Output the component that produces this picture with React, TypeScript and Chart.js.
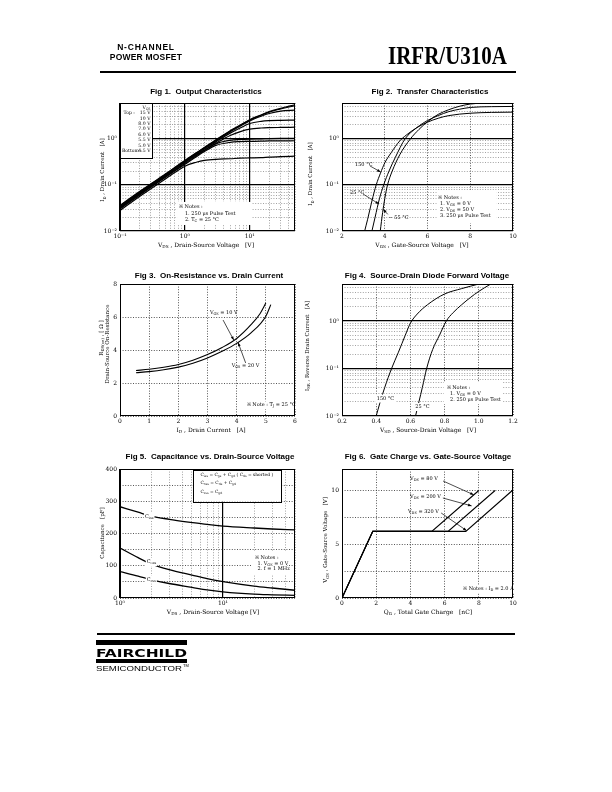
import React, { useEffect, useRef } from 'react';
import { Chart, registerables } from 'chart.js';

Chart.register(...registerables);

/* ============================ DATA ============================ */
// Fig 1 – Output characteristics
const fig1Vds = [0.1, 0.2, 0.3, 0.5, 0.7, 1, 1.5, 2, 3, 5, 7, 10, 15, 20, 30, 50];
const fig1VgsLabels = ['15 V', '10 V', '8.0 V', '7.0 V', '6.0 V', '5.5 V', '5.0 V', '4.5 V'];
const fig1Id15V = [0.036, 0.072, 0.106, 0.172, 0.24, 0.34, 0.5, 0.65, 0.95, 1.5, 1.95, 2.6, 3.3, 3.9, 4.6, 5.5];
const fig1Id10V = [0.035, 0.07, 0.104, 0.169, 0.236, 0.335, 0.49, 0.64, 0.93, 1.47, 1.92, 2.55, 3.25, 3.8, 4.45, 5.25];
const fig1Id8V = [0.034, 0.068, 0.101, 0.165, 0.23, 0.325, 0.48, 0.625, 0.9, 1.42, 1.85, 2.45, 3.1, 3.55, 4.0, 4.2];
const fig1Id7V = [0.033, 0.066, 0.098, 0.16, 0.223, 0.315, 0.465, 0.6, 0.86, 1.33, 1.7, 2.15, 2.4, 2.48, 2.52, 2.55];
const fig1Id6V = [0.032, 0.064, 0.095, 0.155, 0.215, 0.305, 0.445, 0.57, 0.8, 1.18, 1.42, 1.62, 1.72, 1.75, 1.77, 1.79];
const fig1Id55V = [0.031, 0.062, 0.092, 0.15, 0.208, 0.29, 0.43, 0.56, 0.78, 0.93, 0.97, 0.99, 1.0, 1.01, 1.02, 1.03];
const fig1Id5V = [0.03, 0.06, 0.089, 0.145, 0.2, 0.28, 0.41, 0.53, 0.72, 0.84, 0.87, 0.88, 0.89, 0.9, 0.9, 0.91];
const fig1Id45V = [0.028, 0.056, 0.083, 0.135, 0.185, 0.255, 0.31, 0.34, 0.36, 0.37, 0.38, 0.385, 0.39, 0.4, 0.41, 0.42];

// Fig 2 – Transfer characteristics
const fig2Vgs150 = [3.06, 3.2, 3.4, 3.6, 3.8, 4.0, 4.3, 4.7, 5.0, 5.5, 6.0, 6.5, 7.0, 8.0, 9.0, 10];
const fig2Id150 = [0.01, 0.018, 0.045, 0.1, 0.18, 0.3, 0.5, 0.9, 1.2, 1.75, 2.3, 2.8, 3.2, 3.6, 3.75, 3.8];
const fig2Vgs25 = [3.4, 3.55, 3.75, 3.95, 4.2, 4.5, 4.95, 5.5, 6.0, 6.5, 7.0, 7.5, 8.0, 9.0, 10];
const fig2Id25 = [0.01, 0.02, 0.05, 0.1, 0.2, 0.4, 1.0, 1.75, 2.5, 3.2, 3.9, 4.4, 4.8, 5.0, 5.05];
const fig2VgsM55 = [3.79, 3.9, 4.0, 4.13, 4.35, 4.7, 5.2, 5.6, 6.0, 6.5, 7.0, 7.5, 8.0, 8.5, 10];
const fig2IdM55 = [0.01, 0.025, 0.05, 0.1, 0.2, 0.45, 1.0, 1.6, 2.35, 3.4, 4.3, 5.1, 5.7, 5.9, 5.95];

// Fig 3 – On-resistance vs drain current
const fig3Id10 = [0.55, 1, 1.5, 2, 2.5, 3, 3.5, 4, 4.5, 4.8, 5.0];
const fig3Rds10 = [2.76, 2.83, 2.95, 3.12, 3.38, 3.72, 4.15, 4.7, 5.55, 6.2, 6.85];
const fig3Id20 = [0.55, 1, 1.5, 2, 2.5, 3, 3.5, 4, 4.5, 5.0, 5.17];
const fig3Rds20 = [2.62, 2.69, 2.8, 2.96, 3.2, 3.52, 3.92, 4.4, 5.05, 6.05, 6.75];

// Fig 4 – Source-drain diode forward voltage
const fig4Vsd150 = [0.4, 0.42, 0.45, 0.49, 0.53, 0.57, 0.6, 0.64, 0.7, 0.8, 0.9, 1.0];
const fig4Isr150 = [0.01, 0.018, 0.04, 0.1, 0.22, 0.5, 0.9, 1.4, 2.2, 3.7, 4.8, 6.0];
const fig4Vsd25 = [0.63, 0.65, 0.67, 0.695, 0.73, 0.77, 0.81, 0.85, 0.9, 0.95, 1.0, 1.07];
const fig4Isr25 = [0.01, 0.02, 0.04, 0.1, 0.25, 0.5, 1.0, 1.5, 2.2, 3.1, 4.2, 6.0];

// Fig 5 – Capacitance
const fig5Vds = [1, 1.5, 2, 3, 5, 7, 10, 20, 30, 50];
const fig5Ciss = [283, 266, 254, 244, 234, 228, 223, 217, 214, 211];
const fig5Coss = [155, 125, 106, 88, 71, 60, 51, 37, 31, 24];
const fig5Crss = [82, 68, 57, 45, 33, 25, 19, 12, 10, 8];

// Fig 6 – Gate charge
const fig6Qg80 = [0, 1.8, 5.25, 8.0];
const fig6Qg200 = [0, 1.8, 6.2, 8.95];
const fig6Qg320 = [0, 1.8, 7.24, 9.96];
const fig6Vgs = [0, 6.2, 6.2, 10];

// Tick / grid values
function logGrid(min: number, max: number): number[] {
  const out: number[] = [];
  for (let e = Math.floor(Math.log10(min)); e <= Math.ceil(Math.log10(max)); e++) {
    for (let m = 1; m <= 9; m++) {
      const v = parseFloat((m * Math.pow(10, e)).toPrecision(4));
      if (v >= min * 0.9999 && v <= max * 1.0001) out.push(v);
    }
  }
  return out;
}
const fig1XGrid = logGrid(0.1, 50);
const currentLogGrid = logGrid(0.01, 6);
const fig2XTicks = [2, 4, 6, 8, 10];
const fig3XTicks = [0, 1, 2, 3, 4, 5, 6];
const fig3YTicks = [0, 2, 4, 6, 8];
const fig4XTicks = [0.2, 0.4, 0.6, 0.8, 1.0, 1.2];
const fig5XGrid = logGrid(1, 50);
const fig5YTicks = [0, 50, 100, 150, 200, 250, 300, 350, 400];
const fig6XTicks = [0, 2, 4, 6, 8, 10];
const fig6YTicks = [0, 2.5, 5, 7.5, 10, 12];

/* ============================ HELPERS ============================ */
const SERIF = "'DejaVu Serif', serif";
const PAD_L = 30, PAD_T = 8, PAD_R = 14, PAD_B = 14;

const isPow10 = (v: number) => {
  const l = Math.log10(v);
  return Math.abs(l - Math.round(l)) < 1e-6;
};
const SUP: Record<string, string> = { '-': '⁻', '0': '⁰', '1': '¹', '2': '²', '3': '³' };
const expLabel = (v: number) =>
  isPow10(v) ? '10' + String(Math.round(Math.log10(v))).split('').map((c) => SUP[c] || c).join('') : '';

type Part = { t: string; m: number };
function parseRich(s: string): Part[] {
  const out: Part[] = [];
  let buf = '';
  let i = 0;
  while (i < s.length) {
    if ((s[i] === '_' || s[i] === '^') && s[i + 1] === '{') {
      if (buf) { out.push({ t: buf, m: 0 }); buf = ''; }
      const j = s.indexOf('}', i);
      out.push({ t: s.slice(i + 2, j), m: s[i] === '_' ? 1 : 2 });
      i = j + 1;
    } else {
      buf += s[i];
      i++;
    }
  }
  if (buf) out.push({ t: buf, m: 0 });
  return out;
}

function drawRich(ctx: any, x: number, y: number, s: string, size: number, align: string, bg: boolean) {
  const parts = parseRich(s);
  let w = 0;
  for (const p of parts) {
    ctx.font = `${p.m ? size * 0.7 : size}px ${SERIF}`;
    w += ctx.measureText(p.t).width;
  }
  let cx = align === 'right' ? x - w : align === 'center' ? x - w / 2 : x;
  if (bg) {
    ctx.fillStyle = '#fff';
    ctx.fillRect(cx - 1, y - size * 0.75, w + 2, size * 1.6);
  }
  ctx.fillStyle = '#000';
  ctx.textBaseline = 'middle';
  ctx.textAlign = 'left';
  for (const p of parts) {
    const sz = p.m ? size * 0.7 : size;
    ctx.font = `${sz}px ${SERIF}`;
    const dy = p.m === 1 ? size * 0.3 : p.m === 2 ? -size * 0.35 : 0;
    ctx.fillText(p.t, cx, y + dy);
    cx += ctx.measureText(p.t).width;
  }
}

function overlayPlugin(items: any[]) {
  return {
    id: 'overlay',
    afterDatasetsDraw(chart: any) {
      const ctx = chart.ctx;
      const a = chart.chartArea;
      const X = (f: number) => a.left + f * (a.right - a.left);
      const Y = (f: number) => a.top + f * (a.bottom - a.top);
      ctx.save();
      ctx.setLineDash([]);
      for (const it of items) {
        if (it.k === 'box') {
          ctx.fillStyle = '#fff';
          const x1 = X(it.x1), y1 = Y(it.y1), x2 = X(it.x2), y2 = Y(it.y2);
          ctx.fillRect(x1, y1, x2 - x1, y2 - y1);
          if (it.stroke) {
            ctx.strokeStyle = '#000';
            ctx.lineWidth = 1;
            ctx.strokeRect(Math.round(x1) + 0.5, Math.round(y1) + 0.5, Math.round(x2 - x1), Math.round(y2 - y1));
          }
        } else if (it.k === 'text') {
          drawRich(ctx, X(it.x), Y(it.y), it.s, it.size || 5, it.align || 'left', !!it.bg);
        } else if (it.k === 'arrow') {
          const x1 = X(it.x1), y1 = Y(it.y1), x2 = X(it.x2), y2 = Y(it.y2);
          ctx.strokeStyle = '#000';
          ctx.fillStyle = '#000';
          ctx.lineWidth = 0.7;
          ctx.beginPath();
          ctx.moveTo(x1, y1);
          ctx.lineTo(x2, y2);
          ctx.stroke();
          const ang = Math.atan2(y2 - y1, x2 - x1);
          const L = 3.6, W = 1.4;
          const c = Math.cos(ang), s = Math.sin(ang);
          ctx.beginPath();
          ctx.moveTo(x2, y2);
          ctx.lineTo(x2 - L * c + W * s, y2 - L * s - W * c);
          ctx.lineTo(x2 - L * c - W * s, y2 - L * s + W * c);
          ctx.closePath();
          ctx.fill();
        }
      }
      ctx.strokeStyle = '#000';
      ctx.lineWidth = 1;
      ctx.strokeRect(Math.round(a.left) + 0.5, Math.round(a.top) + 0.5, Math.round(a.right - a.left) - 1, Math.round(a.bottom - a.top) - 1);
      ctx.restore();
    },
  };
}

function axisOptions(a: any, isX: boolean) {
  const solid = (c: any) => !!(a.solid && c && c.tick && a.solid(c.tick.value));
  const dotCol = a.type === 'logarithmic' ? '#8a8a8a' : '#2a2a2a';
  return {
    type: a.type,
    min: a.min,
    max: a.max,
    bounds: 'data',
    afterBuildTicks: (s: any) => {
      s.ticks = a.grid.map((v: number) => ({ value: v }));
    },
    afterFit: (s: any) => {
      if (isX) s.height = PAD_B;
      else s.width = PAD_L;
    },
    ticks: {
      autoSkip: false,
      maxRotation: 0,
      minRotation: 0,
      padding: isX ? 2 : 3,
      color: '#000',
      font: { family: SERIF, size: 6 },
      callback: (v: any) => a.label(Number(v)),
    },
    grid: {
      drawTicks: false,
      color: (c: any) => (solid(c) ? '#000' : dotCol),
      lineWidth: (c: any) => (solid(c) ? 1.2 : 0.8),
    },
    border: {
      display: false,
      dash: (c: any) => (solid(c) ? [] : [1, 1.6]),
    },
  };
}

function buildConfig(f: any) {
  return {
    type: 'scatter',
    data: {
      datasets: f.series.map((s: any) => ({
        data: s.x.map((x: number, i: number) => ({ x, y: s.y[i] })),
        showLine: true,
        borderColor: '#000',
        backgroundColor: '#000',
        borderWidth: s.width || 1,
        pointRadius: 0,
        pointHoverRadius: 0,
        fill: false,
        tension: 0,
        cubicInterpolationMode: s.straight ? 'default' : 'monotone',
      })),
    },
    options: {
      responsive: false,
      animation: false,
      events: [],
      devicePixelRatio: 1,
      layout: { padding: { left: 0, top: PAD_T, right: PAD_R, bottom: 0 } },
      plugins: { legend: { display: false }, tooltip: { enabled: false } },
      scales: { x: axisOptions(f.x, true), y: axisOptions(f.y, false) },
    },
    plugins: [overlayPlugin(f.items)],
  };
}

/* ============================ FIGURE SPECS ============================ */
const logCurrentAxis = { type: 'logarithmic', min: 0.01, max: 6, grid: currentLogGrid, label: expLabel, solid: isPow10 };

const fig1 = {
  l: 120, t: 103, w: 175, h: 128,
  x: { type: 'logarithmic', min: 0.1, max: 50, grid: fig1XGrid, label: expLabel, solid: isPow10 },
  y: logCurrentAxis,
  series: [fig1Id15V, fig1Id10V, fig1Id8V, fig1Id7V, fig1Id6V, fig1Id55V, fig1Id5V, fig1Id45V].map((y) => ({ x: fig1Vds, y, width: 1.2 })),
  items: [
    { k: 'box', x1: 0, y1: 0, x2: 0.183, y2: 0.43, stroke: true },
    { k: 'text', x: 0.151, y: 0.039, s: 'V_{GS}', align: 'center', size: 4.6 },
    { k: 'text', x: 0.02, y: 0.08, s: 'Top :', size: 4.6 },
    ...fig1VgsLabels.map((s, i) => ({ k: 'text', x: 0.174, y: 0.08 + i * 0.0418, s, align: 'right', size: 4.6 })),
    { k: 'text', x: 0.011, y: 0.373, s: 'Bottom :', size: 4.6 },
    { k: 'box', x1: 0.326, y1: 0.773, x2: 0.754, y2: 0.953 },
    { k: 'text', x: 0.337, y: 0.8125, s: '※ Notes :' },
    { k: 'text', x: 0.371, y: 0.863, s: '1. 250 μs Pulse Test' },
    { k: 'text', x: 0.371, y: 0.914, s: '2. T_{C} = 25 °C' },
  ],
};

const fig2 = {
  l: 342, t: 103, w: 171, h: 128,
  x: { type: 'linear', min: 2, max: 10, grid: fig2XTicks, label: (v: number) => String(v) },
  y: logCurrentAxis,
  series: [
    { x: fig2Vgs150, y: fig2Id150 },
    { x: fig2Vgs25, y: fig2Id25 },
    { x: fig2VgsM55, y: fig2IdM55 },
  ],
  items: [
    { k: 'text', x: 0.076, y: 0.484, s: '150 °C' },
    { k: 'arrow', x1: 0.164, y1: 0.492, x2: 0.226, y2: 0.539 },
    { k: 'text', x: 0.047, y: 0.703, s: '25 °C' },
    { k: 'arrow', x1: 0.123, y1: 0.711, x2: 0.216, y2: 0.789 },
    { k: 'arrow', x1: 0.268, y1: 0.87, x2: 0.241, y2: 0.831 },
    { k: 'text', x: 0.272, y: 0.896, s: '− 55 °C' },
    { k: 'box', x1: 0.554, y1: 0.68, x2: 0.905, y2: 0.94 },
    { k: 'text', x: 0.563, y: 0.737, s: '※ Notes :' },
    { k: 'text', x: 0.573, y: 0.789, s: '1. V_{GS} = 0 V' },
    { k: 'text', x: 0.573, y: 0.836, s: '2. V_{DS} = 50 V' },
    { k: 'text', x: 0.573, y: 0.883, s: '3. 250 μs Pulse Test' },
  ],
};

const fig3 = {
  l: 120, t: 284, w: 175, h: 132,
  x: { type: 'linear', min: 0, max: 6, grid: fig3XTicks, label: (v: number) => String(v) },
  y: { type: 'linear', min: 0, max: 8, grid: fig3YTicks, label: (v: number) => String(v) },
  series: [
    { x: fig3Id10, y: fig3Rds10, width: 1.1 },
    { x: fig3Id20, y: fig3Rds20, width: 1.1 },
  ],
  items: [
    { k: 'text', x: 0.514, y: 0.22, s: 'V_{GS} = 10 V' },
    { k: 'arrow', x1: 0.589, y1: 0.273, x2: 0.65, y2: 0.425 },
    { k: 'text', x: 0.638, y: 0.619, s: 'V_{GS} = 20 V' },
    { k: 'arrow', x1: 0.718, y1: 0.598, x2: 0.675, y2: 0.444 },
    { k: 'text', x: 0.724, y: 0.917, s: '※ Note : T_{J} = 25 °C', bg: true },
  ],
};

const fig4 = {
  l: 342, t: 284, w: 171, h: 132,
  x: { type: 'linear', min: 0.2, max: 1.2, grid: fig4XTicks, label: (v: number) => v.toFixed(1) },
  y: logCurrentAxis,
  series: [
    { x: fig4Vsd150, y: fig4Isr150 },
    { x: fig4Vsd25, y: fig4Isr25 },
  ],
  items: [
    { k: 'text', x: 0.203, y: 0.866, s: '150 °C', bg: true },
    { k: 'text', x: 0.4286, y: 0.93, s: '25 °C', bg: true },
    { k: 'box', x1: 0.596, y1: 0.742, x2: 0.94, y2: 0.909 },
    { k: 'text', x: 0.612, y: 0.785, s: '※ Notes :' },
    { k: 'text', x: 0.632, y: 0.828, s: '1. V_{GS} = 0 V' },
    { k: 'text', x: 0.632, y: 0.879, s: '2. 250 μs Pulse Test' },
  ],
};

const fig5 = {
  l: 120, t: 469, w: 175, h: 129,
  x: { type: 'logarithmic', min: 1, max: 50, grid: fig5XGrid, label: expLabel, solid: isPow10 },
  y: { type: 'linear', min: 0, max: 400, grid: fig5YTicks, label: (v: number) => (v % 100 === 0 ? String(v) : '') },
  series: [
    { x: fig5Vds, y: fig5Ciss, width: 1.3 },
    { x: fig5Vds, y: fig5Coss, width: 1.3 },
    { x: fig5Vds, y: fig5Crss, width: 1.3 },
  ],
  items: [
    { k: 'box', x1: 0.419, y1: 0.008, x2: 0.924, y2: 0.253, stroke: true },
    { k: 'text', x: 0.46, y: 0.047, s: 'C_{iss} = C_{gs} + C_{gd} ( C_{ds} = shorted )', size: 4.4 },
    { k: 'text', x: 0.46, y: 0.111, s: 'C_{oss} = C_{ds} + C_{gd}', size: 4.4 },
    { k: 'text', x: 0.46, y: 0.176, s: 'C_{rss} = C_{gd}', size: 4.4 },
    { k: 'text', x: 0.143, y: 0.37, s: 'C_{iss}', bg: true },
    { k: 'text', x: 0.153, y: 0.719, s: 'C_{oss}', bg: true },
    { k: 'text', x: 0.153, y: 0.855, s: 'C_{rss}', bg: true },
    { k: 'box', x1: 0.754, y1: 0.643, x2: 0.954, y2: 0.822 },
    { k: 'text', x: 0.771, y: 0.685, s: '※ Notes :' },
    { k: 'text', x: 0.785, y: 0.731, s: '1. V_{GS} = 0 V' },
    { k: 'text', x: 0.785, y: 0.775, s: '2. f = 1 MHz' },
  ],
};

const fig6 = {
  l: 342, t: 469, w: 171, h: 129,
  x: { type: 'linear', min: 0, max: 10, grid: fig6XTicks, label: (v: number) => String(v) },
  y: { type: 'linear', min: 0, max: 12, grid: fig6YTicks, label: (v: number) => (v % 5 === 0 ? String(v) : '') },
  series: [
    { x: fig6Qg80, y: fig6Vgs, width: 1.1, straight: true },
    { x: fig6Qg200, y: fig6Vgs, width: 1.1, straight: true },
    { x: fig6Qg320, y: fig6Vgs, width: 1.1, straight: true },
  ],
  items: [
    { k: 'text', x: 0.398, y: 0.0775, s: 'V_{DS} = 80 V' },
    { k: 'arrow', x1: 0.591, y1: 0.093, x2: 0.77, y2: 0.2 },
    { k: 'text', x: 0.398, y: 0.217, s: 'V_{DS} = 200 V' },
    { k: 'arrow', x1: 0.59, y1: 0.225, x2: 0.758, y2: 0.286 },
    { k: 'text', x: 0.386, y: 0.333, s: 'V_{DS} = 320 V' },
    { k: 'arrow', x1: 0.58, y1: 0.341, x2: 0.729, y2: 0.478 },
    { k: 'text', x: 0.708, y: 0.93, s: '※ Notes : I_{D} = 2.0 A', bg: true },
  ],
};

const figures = [fig1, fig2, fig3, fig4, fig5, fig6];

const figTitles = [
  { x: 206, y: 91.5, s: 'Fig 1.  Output Characteristics' },
  { x: 430, y: 91.5, s: 'Fig 2.  Transfer Characteristics' },
  { x: 209, y: 275, s: 'Fig 3.  On-Resistance vs. Drain Current' },
  { x: 427, y: 275, s: 'Fig 4.  Source-Drain Diode Forward Voltage' },
  { x: 210, y: 456.5, s: 'Fig 5.  Capacitance vs. Drain-Source Voltage' },
  { x: 428, y: 456.5, s: 'Fig 6.  Gate Charge vs. Gate-Source Voltage' },
];

const xAxisTitles = [
  { x: 206, y: 244, s: 'V_{DS} , Drain-Source Voltage   [V]' },
  { x: 422, y: 244, s: 'V_{GS} , Gate-Source Voltage   [V]' },
  { x: 211, y: 429, s: 'I_{D} , Drain Current   [A]' },
  { x: 428, y: 429, s: 'V_{SD} , Source-Drain Voltage   [V]' },
  { x: 213, y: 611, s: 'V_{DS} , Drain-Source Voltage [V]' },
  { x: 428, y: 611, s: 'Q_{G} , Total Gate Charge   [nC]' },
];

const yAxisTitles = [
  { x: 102, y: 170, s: 'I_{D} , Drain Current   [A]' },
  { x: 310, y: 174, s: 'I_{D} , Drain Current   [A]' },
  { x: 100.5, y: 338, s: 'R_{DS(on)} , [ Ω ]' },
  { x: 107, y: 344, s: 'Drain-Source On-Resistance' },
  { x: 306.5, y: 346, s: 'I_{SR} , Reverse Drain Current   [A]' },
  { x: 102, y: 533, s: 'Capacitance   [pF]' },
  { x: 325, y: 540, s: 'V_{GS} , Gate-Source Voltage   [V]' },
];

/* ============================ COMPONENTS ============================ */
function Fig({ f }: { f: any }) {
  const ref = useRef<HTMLCanvasElement>(null);
  useEffect(() => {
    const c = new Chart(ref.current as HTMLCanvasElement, buildConfig(f) as any);
    return () => c.destroy();
  }, [f]);
  const cw = f.w + PAD_L + PAD_R;
  const ch = f.h + PAD_T + PAD_B;
  return (
    <canvas
      ref={ref}
      width={cw}
      height={ch}
      style={{ position: 'absolute', left: f.l - PAD_L, top: f.t - PAD_T, width: cw, height: ch }}
    />
  );
}

function RichSvg({ x, y, s, size, rotate, anchor = 'middle', family = SERIF, weight = 'normal' }: any) {
  const parts = parseRich(s);
  let shift = 0;
  const spans = parts.map((p, i) => {
    const target = p.m === 1 ? size * 0.3 : p.m === 2 ? -size * 0.35 : 0;
    const dy = target - shift;
    shift = target;
    return (
      <tspan key={i} dy={dy} fontSize={p.m ? size * 0.7 : size}>
        {p.t}
      </tspan>
    );
  });
  return (
    <text
      x={x}
      y={y}
      fontSize={size}
      fontFamily={family}
      fontWeight={weight}
      textAnchor={anchor}
      dominantBaseline="central"
      fill="#000"
      transform={rotate ? `rotate(-90 ${x} ${y})` : undefined}
      style={{ whiteSpace: 'pre' }}
    >
      {spans}
    </text>
  );
}

export default function App() {
  return (
    <div style={{ position: 'absolute', left: 0, top: 0, width: 612, height: 792, background: '#fff', overflow: 'hidden' }}>
      {figures.map((f, i) => (
        <Fig key={i} f={f} />
      ))}
      <svg width={612} height={792} style={{ position: 'absolute', left: 0, top: 0, pointerEvents: 'none' }}>
        {/* header */}
        <text x={146} y={47} textAnchor="middle" dominantBaseline="central" fontFamily="'Liberation Sans', Arial, sans-serif" fontWeight="bold" fontSize={8.5} letterSpacing={0.8}>
          N-CHANNEL
        </text>
        <text x={146} y={56.5} textAnchor="middle" dominantBaseline="central" fontFamily="'Liberation Sans', Arial, sans-serif" fontWeight="bold" fontSize={8.5} letterSpacing={0.2}>
          POWER MOSFET
        </text>
        <g transform="translate(507 63.5) scale(1 1.2)">
          <text x={0} y={0} textAnchor="end" fontFamily="'Liberation Serif', 'Times New Roman', serif" fontWeight="bold" fontSize={21}>
            IRFR/U310A
          </text>
        </g>
        <rect x={100} y={71} width={416} height={2} fill="#000" />

        {/* figure titles */}
        {figTitles.map((t, i) => (
          <text key={'ft' + i} x={t.x} y={t.y} textAnchor="middle" dominantBaseline="central" fontFamily="'Liberation Sans', Arial, sans-serif" fontWeight="bold" fontSize={8} style={{ whiteSpace: 'pre' }}>
            {t.s}
          </text>
        ))}

        {/* axis titles */}
        {xAxisTitles.map((t, i) => (
          <RichSvg key={'xt' + i} x={t.x} y={t.y} s={t.s} size={6} />
        ))}
        {yAxisTitles.map((t, i) => (
          <RichSvg key={'yt' + i} x={t.x} y={t.y} s={t.s} size={5.5} rotate />
        ))}

        {/* footer */}
        <rect x={97} y={633} width={418} height={2} fill="#000" />
        <rect x={96} y={640} width={91} height={5} fill="#000" />
        <text x={96} y={657} fontFamily="'DejaVu Sans', sans-serif" fontWeight="bold" fontSize={11} textLength={91} lengthAdjust="spacingAndGlyphs">
          FAIRCHILD
        </text>
        <rect x={96} y={659} width={91} height={4} fill="#000" />
        <text x={96} y={671} fontFamily="'Liberation Sans', Arial, sans-serif" fontSize={7.5} textLength={86} lengthAdjust="spacingAndGlyphs">
          SEMICONDUCTOR
        </text>
        <text x={183} y={667} fontFamily="'Liberation Sans', Arial, sans-serif" fontSize={4}>
          TM
        </text>
      </svg>
    </div>
  );
}
